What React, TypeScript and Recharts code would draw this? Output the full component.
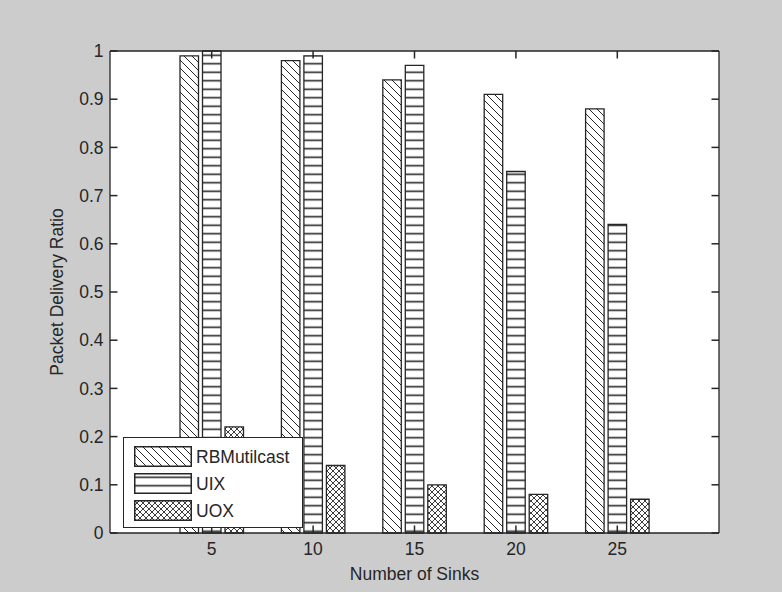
import React from 'react';
import { BarChart, Bar, XAxis, YAxis, Legend } from 'recharts';

const SINKS = ['5', '10', '15', '20', '25'];
const RB_MULTICAST = [0.99, 0.98, 0.94, 0.91, 0.88];
const UIX = [1.0, 0.99, 0.97, 0.75, 0.64];
const UOX = [0.22, 0.14, 0.1, 0.08, 0.07];
const Y_TICKS = [0, 0.1, 0.2, 0.3, 0.4, 0.5, 0.6, 0.7, 0.8, 0.9, 1];

const SERIES = [
  { key: 'rb', name: 'RBMutilcast', fill: 'url(#hatch-diag)' },
  { key: 'uix', name: 'UIX', fill: 'url(#hatch-horiz)' },
  { key: 'uox', name: 'UOX', fill: 'url(#hatch-cross)' },
];

const data = SINKS.map((s, i) => ({
  sinks: s,
  rb: RB_MULTICAST[i],
  uix: UIX[i],
  uox: UOX[i],
}));

const FONT = '"Liberation Sans", Arial, sans-serif';
const INK = '#262626';
const FS = 17.5;
const TICK_LEN = 7.5;

// plot box, matches the chart margins + axis sizes below
const BOX = { left: 110, top: 51, right: 719, bottom: 533 };

// matlab style ticks, pointing into the axes box
function BottomTick(props: any) {
  const { x, y, payload } = props;
  return (
    <g>
      <line x1={x} y1={y} x2={x} y2={y - TICK_LEN} stroke={INK} strokeWidth={1.5} />
      <text x={x} y={y + 10} dy="0.71em" textAnchor="middle" fill={INK} fontSize={FS} fontFamily={FONT}>
        {payload.value}
      </text>
    </g>
  );
}

// also draws the mirrored tick on the right side of the box
function LeftTick(props: any) {
  const { x, y, payload } = props;
  return (
    <g>
      <line x1={x} y1={y} x2={x + TICK_LEN} y2={y} stroke={INK} strokeWidth={1.5} />
      <line x1={BOX.right} y1={y} x2={BOX.right - TICK_LEN} y2={y} stroke={INK} strokeWidth={1.5} />
      <text x={x - 6.5} y={y} dy="0.355em" textAnchor="end" fill={INK} fontSize={FS} fontFamily={FONT}>
        {String(payload.value)}
      </text>
    </g>
  );
}

function TopTick(props: any) {
  const { x, y } = props;
  return <line x1={x} y1={y} x2={x} y2={y + TICK_LEN} stroke={INK} strokeWidth={1.5} />;
}

function LegendBox() {
  return (
    <div
      style={{
        width: 178,
        height: 84,
        background: '#fff',
        border: `1px solid ${INK}`,
        fontFamily: FONT,
        fontSize: FS,
        color: INK,
        paddingTop: 5,
        boxSizing: 'content-box',
      }}
    >
      {SERIES.map((s) => (
        <div key={s.key} style={{ display: 'flex', alignItems: 'center', height: 27, marginLeft: 10 }}>
          <svg width={58} height={21} style={{ display: 'block' }}>
            <rect x={0.75} y={0.75} width={56.5} height={19.5} fill={s.fill} stroke={INK} strokeWidth={1.5} />
          </svg>
          <span style={{ marginLeft: 4, lineHeight: '20px' }}>{s.name}</span>
        </div>
      ))}
    </div>
  );
}

const axisLine = { stroke: INK, strokeWidth: 1.3 };

export default function App() {
  return (
    <div style={{ width: 782, height: 592, background: '#cccccc', position: 'relative' }}>
      <style>{'body{margin:0}'}</style>
      <div
        style={{
          position: 'absolute',
          left: BOX.left,
          top: BOX.top,
          width: BOX.right - BOX.left,
          height: BOX.bottom - BOX.top,
          background: '#ffffff',
        }}
      />
      <div style={{ position: 'relative' }}>
        <BarChart
          width={782}
          height={592}
          data={data}
          margin={{ top: 50, right: 62, bottom: 0, left: 0 }}
          barSize={18.5}
          barGap={4}
          style={{ fontFamily: FONT }}
        >
          <defs>
            <pattern id="hatch-diag" patternUnits="userSpaceOnUse" width={8} height={8}>
              <rect width={8} height={8} fill="#fff" />
              <path d="M0,0 L8,8 M-2,6 L2,10 M6,-2 L10,2" stroke={INK} strokeWidth={1} />
            </pattern>
            <pattern id="hatch-horiz" patternUnits="userSpaceOnUse" width={8} height={8.5}>
              <rect width={8} height={8.5} fill="#fff" />
              <path d="M0,4.25 L8,4.25" stroke={INK} strokeWidth={1.6} />
            </pattern>
            <pattern id="hatch-cross" patternUnits="userSpaceOnUse" width={6} height={6}>
              <rect width={6} height={6} fill="#fff" />
              <path d="M0,0 L6,6 M6,0 L0,6" stroke={INK} strokeWidth={0.9} />
            </pattern>
          </defs>
          <XAxis
            dataKey="sinks"
            height={59}
            padding={{ left: 51, right: 51 }}
            axisLine={axisLine}
            tickLine={false}
            tickSize={0}
            tickMargin={0}
            tick={<BottomTick />}
            label={{ value: 'Number of Sinks', position: 'insideBottom', offset: 12.5, fill: INK, fontSize: FS, fontFamily: FONT }}
          />
          <XAxis
            xAxisId="top"
            dataKey="sinks"
            orientation="top"
            height={1}
            padding={{ left: 51, right: 51 }}
            axisLine={axisLine}
            tickLine={false}
            tickSize={0}
            tickMargin={0}
            tick={<TopTick />}
          />
          <YAxis
            type="number"
            domain={[0, 1]}
            ticks={Y_TICKS}
            width={110}
            interval={0}
            axisLine={axisLine}
            tickLine={false}
            tickSize={0}
            tickMargin={0}
            tick={<LeftTick />}
            label={{
              content: () => (
                <text
                  x={62.5}
                  y={292}
                  transform="rotate(-90, 62.5, 292)"
                  textAnchor="middle"
                  fill={INK}
                  fontSize={FS}
                  fontFamily={FONT}
                >
                  Packet Delivery Ratio
                </text>
              ),
            }}
          />
          <YAxis
            yAxisId="right"
            orientation="right"
            type="number"
            domain={[0, 1]}
            ticks={Y_TICKS}
            width={1}
            axisLine={axisLine}
            tickLine={false}
            tick={false}
          />
          <Legend
            layout="vertical"
            align="center"
            verticalAlign="middle"
            wrapperStyle={{ left: 123, top: 437, width: 180, height: 86 }}
            content={() => <LegendBox />}
          />
          {SERIES.map((s) => (
            <Bar
              key={s.key}
              dataKey={s.key}
              name={s.name}
              fill={s.fill}
              stroke={INK}
              strokeWidth={1.3}
              isAnimationActive={false}
            />
          ))}
        </BarChart>
      </div>
    </div>
  );
}
